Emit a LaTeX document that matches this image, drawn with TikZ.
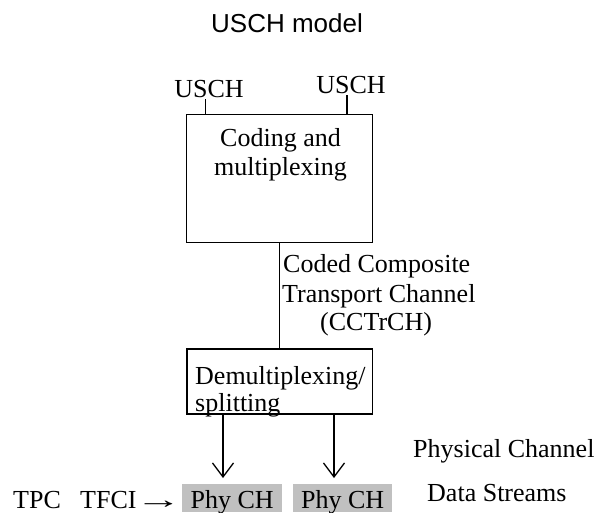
\documentclass[tikz,border=0pt]{standalone}
\usepackage{fontspec}
\setmainfont{Liberation Serif}
\newfontfamily\titlesans{Liberation Sans}
\usetikzlibrary{arrows.meta}
\definecolor{phygray}{RGB}{192,192,192}
\tikzset{
  txt/.style={inner sep=0pt, anchor=base west, font=\fontsize{26}{29}\selectfont},
  blockbox/.style={draw, line width=1.3pt, inner sep=0pt},
  wire/.style={line width=1.3pt},
  arr/.style={line width=1.3pt, -{Straight Barb[length=14pt, width=21pt, line width=1.3pt]}},
  phybox/.style={fill=phygray, inner sep=0pt, minimum width=100pt, text height=24pt, text depth=4pt, anchor=north west, font=\fontsize{26}{29}\selectfont}
}
\begin{document}
\begin{tikzpicture}[x=1pt,y=-1pt]
\useasboundingbox (0,0) rectangle (599,512);
% title
\node[txt, font=\titlesans\fontsize{26}{29}\selectfont] (title) at (211,32) {USCH model};
% coding box
\node[blockbox, minimum width=186pt, minimum height=128.4pt] (cod) at (279.7,178.5) {};
\node[txt, anchor=base] (cod1) at (280.5,146) {Coding and};
\node[txt, anchor=base] (cod2) at (280.5,175) {multiplexing};
% USCH inputs
\node[txt, anchor=base] (u1) at (209,97) {USCH};
\node[txt, anchor=base] (u2) at (351,93) {USCH};
\coordinate (t1) at (205.7,99);
\coordinate (t2) at (347,95);
\draw[wire] (t1) -- (t1 |- cod.north);
\draw[wire] (t2) -- (t2 |- cod.north);
% demux box
\node[blockbox, minimum width=185.7pt, minimum height=65pt] (dem) at (279.7,381.5) {};
\node[txt] (dem1) at (195,384) {Demultiplexing/};
\node[txt] (dem2) at (195,411) {splitting};
% CCTrCH link
\draw[wire] (cod.south) -- (dem.north);
\node[txt] (cc1) at (283,272) {Coded Composite};
\node[txt] (cc2) at (282,302) {Transport Channel};
\node[txt] (cc3) at (320,330) {(CCTrCH)};
% physical channels
\node[phybox] (p1) at (182,484) {Phy CH};
\node[phybox, minimum width=99pt] (p2) at (293,484) {Phy CH};
\coordinate (e1) at (223,478);
\coordinate (e2) at (334,478);
\draw[arr] (e1 |- dem.south) -- (e1);
\draw[arr] (e2 |- dem.south) -- (e2);
% left labels
\node[txt] (tpc) at (13,508) {TPC};
\node[txt] (tfci) at (80,508) {TFCI};
\node[txt, anchor=base east] (rarr) at (p1.west |- tpc.base) {\scalebox{1.8}[1]{→}};
% right labels
\node[txt] (pc) at (413,457) {Physical Channel};
\node[txt] (ds) at (427,501) {Data Streams};
\end{tikzpicture}
\end{document}
